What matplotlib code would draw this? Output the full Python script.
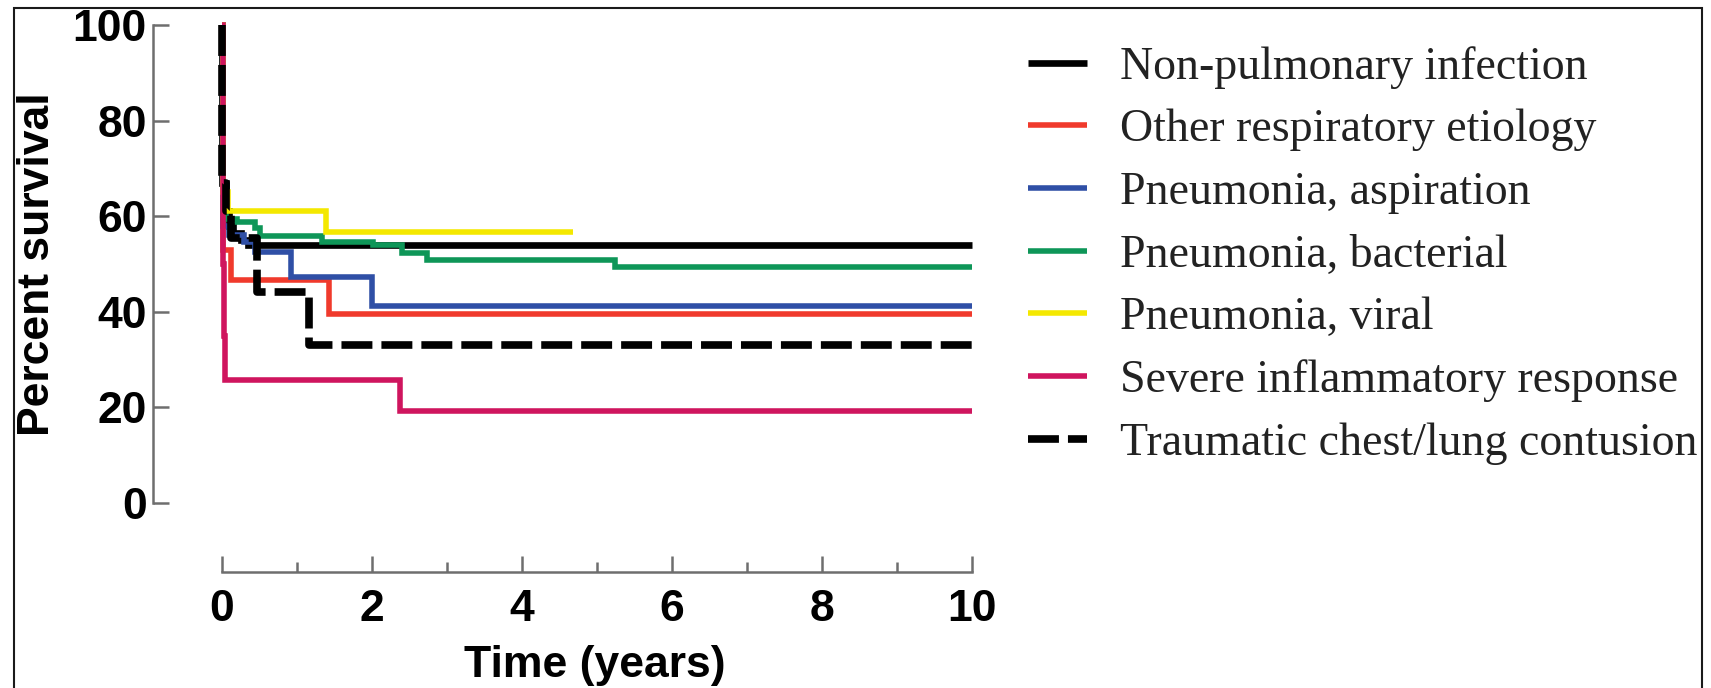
import matplotlib
matplotlib.use("Agg")
import matplotlib.pyplot as plt
from matplotlib.patches import Rectangle
from matplotlib.ticker import MultipleLocator

# Kaplan-Meier step data: event times (years) and percent surviving
nonpulm_t = [0, 0.005, 0.06, 0.10, 0.15, 0.25, 0.35, 10]
nonpulm_s = [100, 67, 61, 58, 56.5, 55, 53.9, 53.9]

other_t = [0, 0.01, 0.12, 1.43, 10]
other_s = [100, 53, 46.7, 39.6, 39.6]

aspir_t = [0, 0.02, 0.10, 0.30, 0.44, 0.92, 2.00, 10]
aspir_s = [100, 58, 56, 54.5, 52.6, 47.3, 41.2, 41.2]

bact_t = [0, 0.01, 0.06, 0.20, 0.44, 0.50, 1.33, 2.01, 2.40, 2.73, 5.24, 10]
bact_s = [100, 61, 59.5, 58.8, 57.5, 55.8, 54.7, 54.0, 52.3, 50.8, 49.4, 49.4]

viral_t = [0, 0.01, 0.08, 1.39, 4.68]
viral_s = [100, 65, 61, 56.6, 56.6]

sirs_t = [0, 0.01, 0.02, 0.03, 0.045, 2.37, 10]
sirs_s = [100, 70, 50, 35, 25.7, 19.2, 19.2]

trauma_t = [0, 0.005, 0.06, 0.12, 0.46, 1.16, 10]
trauma_s = [100, 67, 61, 55.5, 44.2, 33.0, 33.0]

labels = [
    "Non-pulmonary infection",
    "Other respiratory etiology",
    "Pneumonia, aspiration",
    "Pneumonia, bacterial",
    "Pneumonia, viral",
    "Severe inflammatory response",
    "Traumatic chest/lung contusion",
]
x_ticks = [0, 2, 4, 6, 8, 10]
y_ticks = [0, 20, 40, 60, 80, 100]

W, H = 1711, 688
fig = plt.figure(figsize=(W / 100, H / 100), dpi=100)
fig.patch.set_facecolor("white")

# axes box in pixel terms: x 222..972, y(top) 25..503
ax = fig.add_axes([222 / W, 1 - 503 / H, 750 / W, 478 / H])
ax.set_xlim(0, 10)
ax.set_ylim(0, 100)

series = [
    (nonpulm_t, nonpulm_s, "#000000", 4.8, "-", 3),
    (other_t, other_s, "#f03a2c", 4.0, "-", 4),
    (aspir_t, aspir_s, "#2f4fa6", 4.0, "-", 5),
    (bact_t, bact_s, "#0e9658", 4.0, "-", 6),
    (viral_t, viral_s, "#f4e800", 4.0, "-", 7),
    (sirs_t, sirs_s, "#cf155e", 4.0, "-", 8),
    (trauma_t, trauma_s, "#000000", 5.5, "--", 9),
]

handles = []
for (t, s, c, lw, ls, z), lab in zip(series, labels):
    kw = dict(color=c, lw=lw, zorder=z, clip_on=False,
              solid_capstyle="butt", dash_capstyle="butt",
              solid_joinstyle="miter")
    if ls == "--":
        kw["dashes"] = (4.05, 1.18)
    h, = ax.step(t, s, where="post", label=lab, **kw)
    handles.append(h)

spine_c = "#6e6e6e"
for side in ("top", "right"):
    ax.spines[side].set_visible(False)
for side in ("left", "bottom"):
    ax.spines[side].set_position(("outward", 49.7))
    ax.spines[side].set_color(spine_c)
    ax.spines[side].set_linewidth(1.8)
ax.spines["left"].set_bounds(0, 100)
ax.spines["bottom"].set_bounds(0, 10)

ax.set_xticks(x_ticks)
ax.set_yticks(y_ticks)
ax.xaxis.set_minor_locator(MultipleLocator(1))
ax.tick_params(axis="both", which="major", direction="in", length=11.5,
               width=1.8, color=spine_c)
ax.tick_params(axis="x", which="minor", direction="in", length=7,
               width=1.8, color=spine_c)
ax.tick_params(axis="y", which="major", pad=4.3)
ax.tick_params(axis="x", which="major", pad=12)

tick_font = dict(family="Liberation Sans", weight="bold", size=32)
ax.set_xticklabels([str(v) for v in x_ticks], fontdict=tick_font)
ax.set_yticklabels([str(v) for v in y_ticks], fontdict=tick_font)

ax.set_xlabel("Time (years)", family="Liberation Sans", weight="bold", size=32)
ax.set_ylabel("Percent survival", family="Liberation Sans", weight="bold", size=32)
ax.xaxis.set_label_coords(0.497, -0.297)
ax.yaxis.set_label_coords(-0.218, 0.5)

leg = ax.legend(handles=handles, labels=labels, loc="upper left",
                bbox_to_anchor=(1028 / W, 1 - 46 / H),
                bbox_transform=fig.transFigure, frameon=False,
                borderpad=0, borderaxespad=0, handlelength=1.29,
                handletextpad=0.72, labelspacing=0.44,
                prop=dict(family="Liberation Serif", size=33))
for txt in leg.get_texts():
    txt.set_color("#222222")

# border around the whole figure
fig.add_artist(Rectangle((14 / W, -0.2), (1702 - 14) / W, 1.2 - 8 / H,
                         transform=fig.transFigure, fill=False,
                         edgecolor="#1a1a1a", lw=1.5, clip_on=False))

fig.savefig("out.png", dpi=100, facecolor="white")
